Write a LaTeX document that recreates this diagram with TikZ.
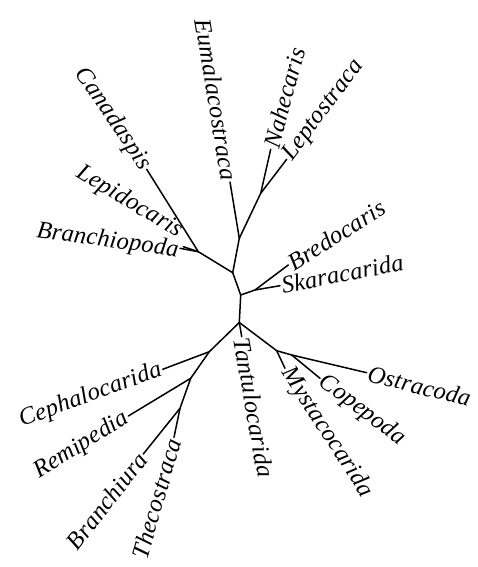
\documentclass[tikz,border=0pt]{standalone}
\usepackage{fontspec}
\setmainfont{Liberation Serif}[LetterSpace=1]
\usetikzlibrary{positioning}
\tikzset{
  branch/.style={line width=1.5pt, line cap=round, line join=round},
  taxon/.style={font=\itshape\fontsize{24.5}{26}\selectfont, inner sep=1.5pt},
  lt/.style={taxon, anchor=east},
  rt/.style={taxon, anchor=west}
}

\begin{document}
\begin{tikzpicture}[x=1pt, y=-1pt]
  \useasboundingbox (0,0) rectangle (478,567);
  % inner junctions
  \coordinate (j1) at (232.7,272.7);
  \coordinate (j2) at (239.3,238.3);
  \coordinate (nl) at (260.7,193.3);
  \coordinate (lj) at (198.3,251.7);
  \coordinate (j3) at (240.7,295);
  \coordinate (bs) at (255,290);
  \coordinate (j4) at (239.3,322.5);
  \coordinate (mj) at (276.7,350.7);
  \coordinate (co) at (291.7,355);
  \coordinate (cj) at (209.3,351.7);
  \coordinate (rj) at (190.7,378.3);
  \coordinate (bt) at (180,408.3);
  % tips
  \coordinate (eum) at (230,182);
  \coordinate (nah) at (270.7,149.3);
  \coordinate (lpt) at (286.7,159.3);
  \coordinate (can) at (146.7,169.3);
  \coordinate (lpd) at (183.3,246.7);
  \coordinate (bpd) at (180,248.3);
  \coordinate (bre) at (288.3,265);
  \coordinate (ska) at (280,285.7);
  \coordinate (tan) at (241.7,336.7);
  \coordinate (mys) at (285,368.3);
  \coordinate (cop) at (320,378.3);
  \coordinate (ost) at (366.7,372.7);
  \coordinate (cep) at (162.7,369.3);
  \coordinate (rem) at (128.3,416);
  \coordinate (bra) at (143.3,454);
  \coordinate (the) at (174,437.3);

  % branches
  \draw[branch] (j1) -- (j2) -- (eum);
  \draw[branch] (j2) -- (nl) -- (nah);
  \draw[branch] (nl) -- (lpt);
  \draw[branch] (j1) -- (lj) -- (can);
  \draw[branch] (lj) -- (lpd);
  \draw[branch] (lj) -- (bpd);
  \draw[branch] (j1) -- (j3) -- (bs) -- (bre);
  \draw[branch] (bs) -- (ska);
  \draw[branch] (j3) -- (j4) -- (tan);
  \draw[branch] (j4) -- (mj) -- (mys);
  \draw[branch] (mj) -- (co) -- (ost);
  \draw[branch] (co) -- (cop);
  \draw[branch] (j4) -- (cj) -- (cep);
  \draw[branch] (cj) -- (rj) -- (rem);
  \draw[branch] (rj) -- (bt) -- (bra);
  \draw[branch] (bt) -- (the);

  % labels
  \node[lt, rotate=-80.6] (eumL) at (eum) {Eumalacostraca};
  \node[lt, rotate=-56] (canL) at (can) {Canadaspis};
  \node[lt, rotate=-31] (lpdL) at ([shift={(-1,-13)}]lpd) {Lepidocaris};
  \node[lt, rotate=-8] (bpdL) at ([shift={(0,3)}]bpd) {Branchiopoda};
  \node[rt, rotate=75] (nahL) at (nah) {Nahecaris};
  \node[rt, rotate=53] (lptL) at (lpt) {Leptostraca};
  \node[rt, rotate=32] (breL) at (bre) {Bredocaris};
  \node[rt, rotate=11] (skaL) at (ska) {Skaracarida};
  \node[rt, rotate=-80] (tanL) at (tan) {Tantulocarida};
  \node[rt, rotate=-57] (mysL) at (mys) {Mystacocarida};
  \node[rt, rotate=-37] (copL) at (cop) {Copepoda};
  \node[rt, rotate=-14] (ostL) at (ost) {Ostracoda};
  \node[lt, rotate=20] (cepL) at (cep) {Cephalocarida};
  \node[lt, rotate=32] (remL) at (rem) {Remipedia};
  \node[lt, rotate=52] (braL) at (bra) {Branchiura};
  \node[lt, rotate=74] (theL) at (the) {Thecostraca};
\end{tikzpicture}
\end{document}
